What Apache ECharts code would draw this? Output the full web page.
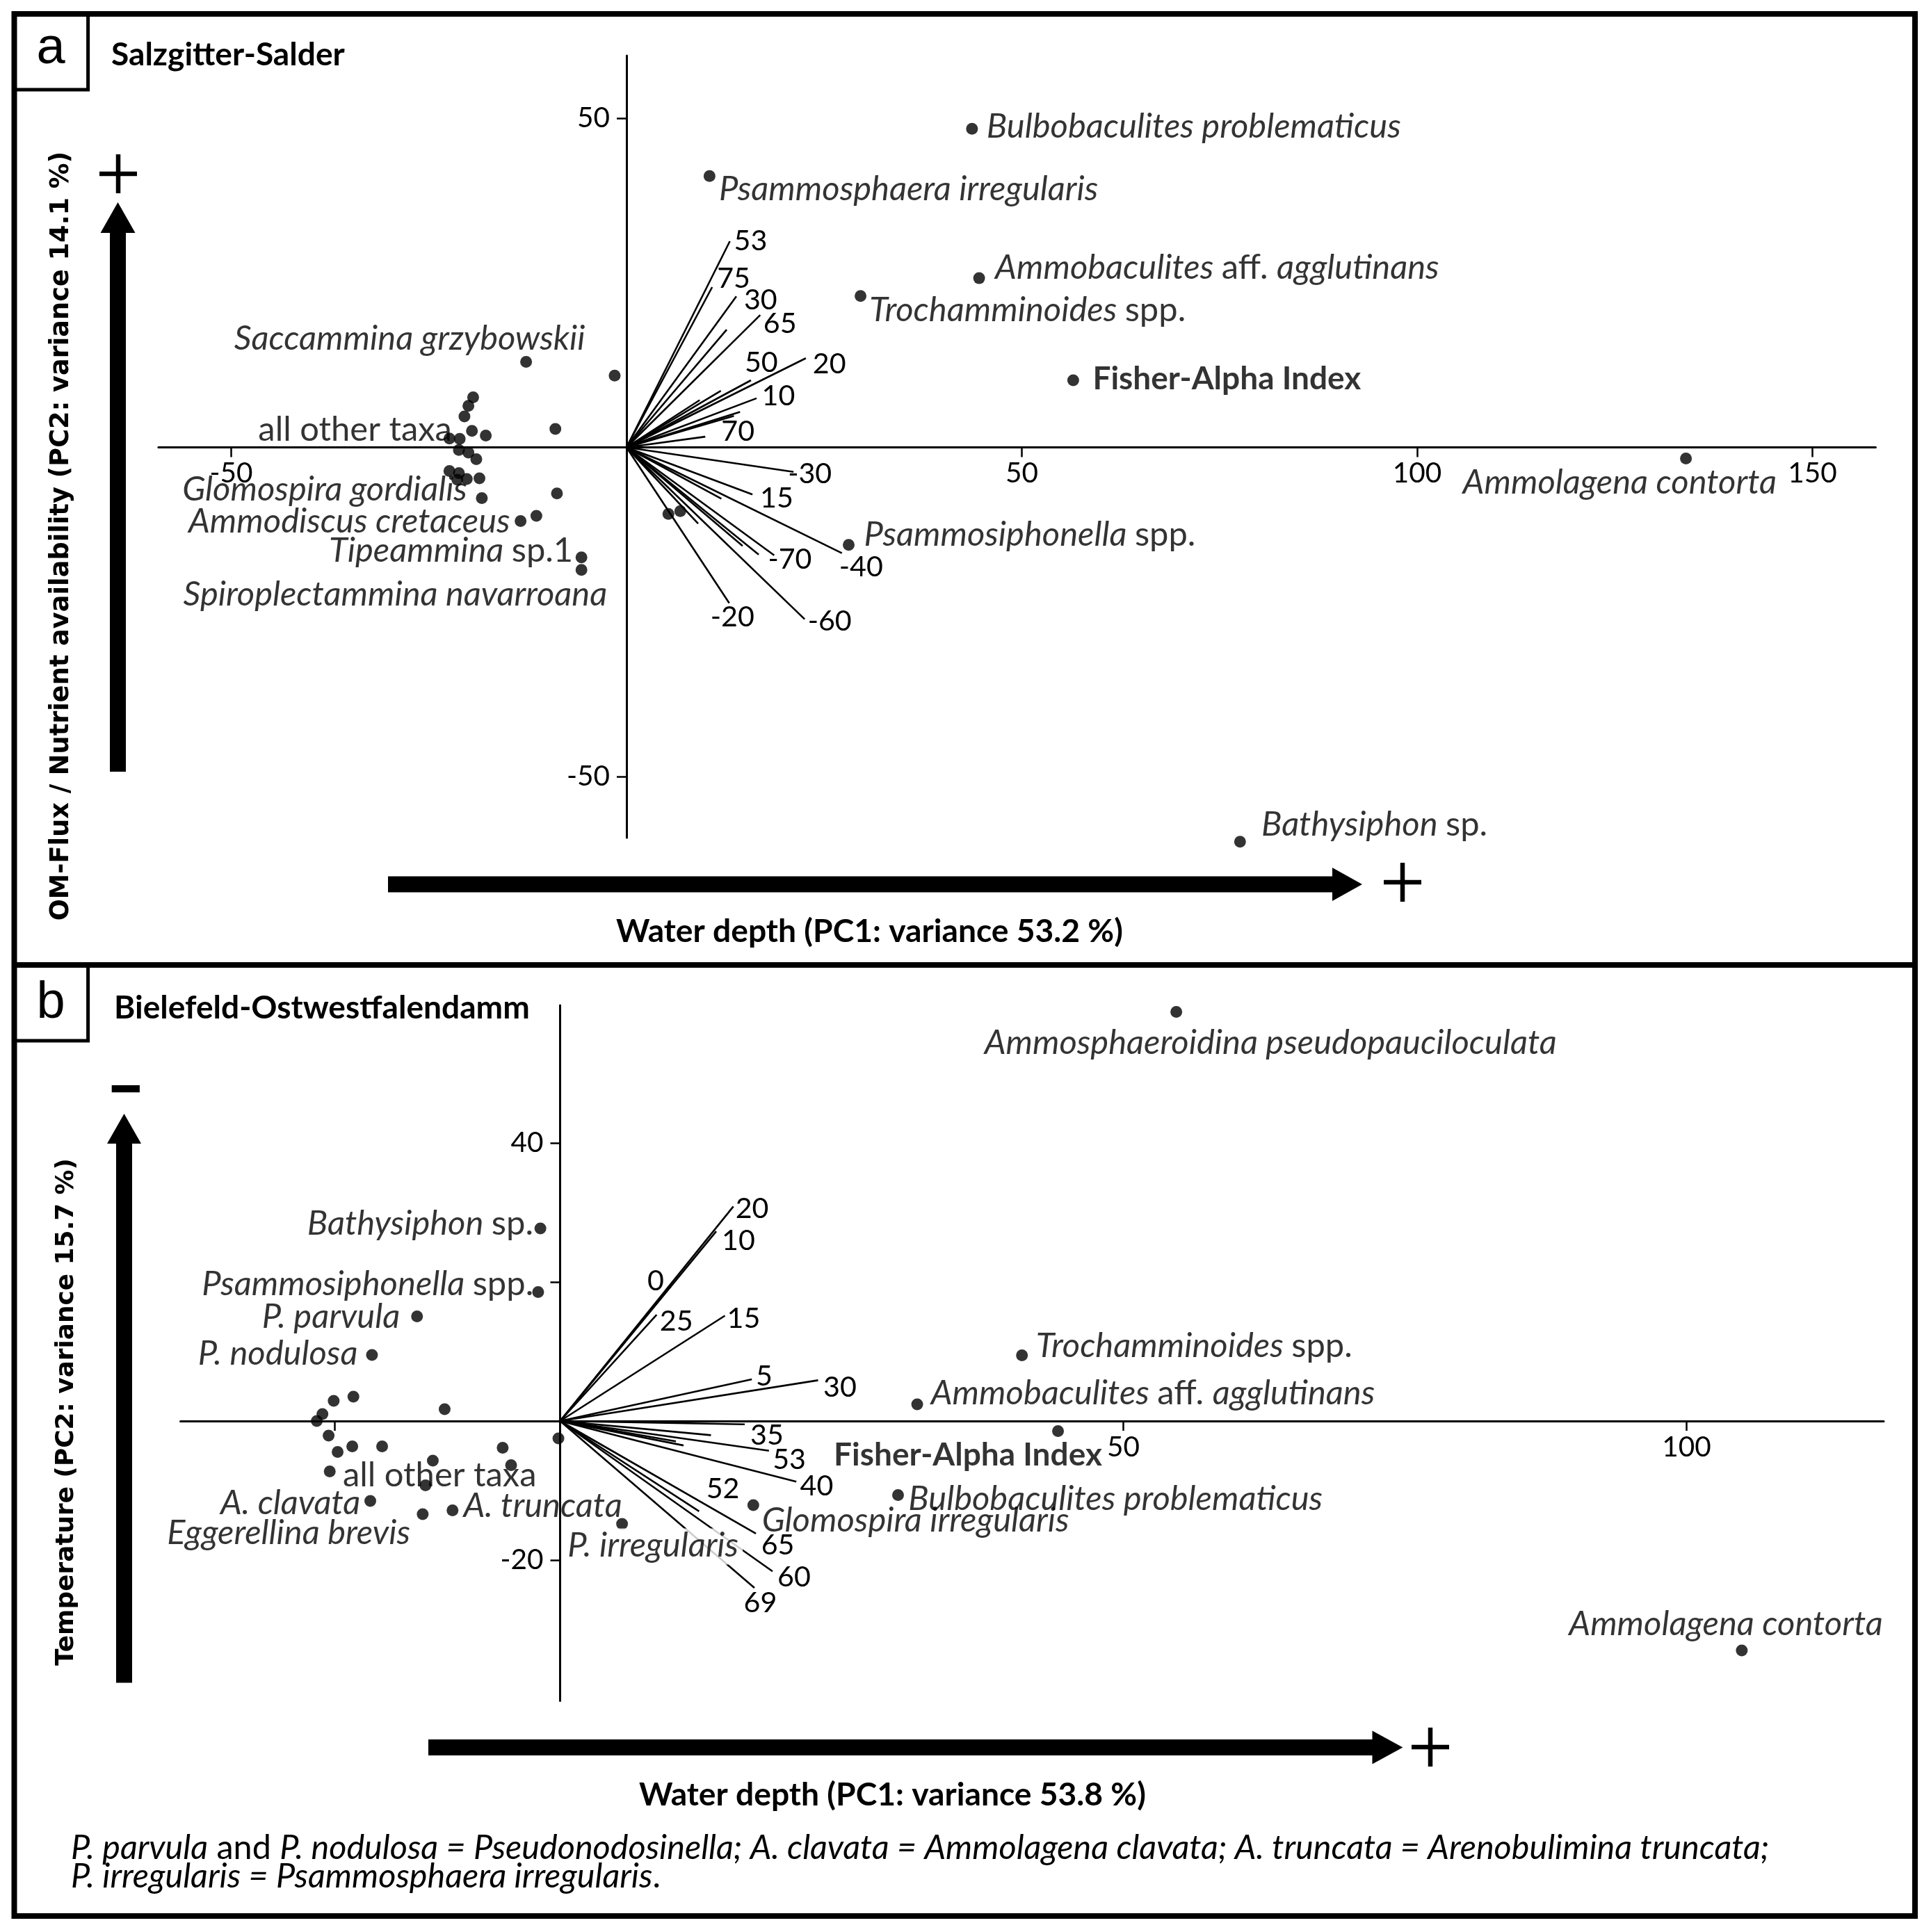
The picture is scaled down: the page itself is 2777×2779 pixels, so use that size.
<!DOCTYPE html>
<html>
<head>
<meta charset="utf-8">
<title>PCA biplots</title>
<script src="https://cdn.jsdelivr.net/npm/echarts@6.0.0/dist/echarts.min.js"></script>
<style>
html,body{margin:0;padding:0;background:#ffffff;}
#chart{width:2777px;height:2779px;}
</style>
</head>
<body>
<div id="chart"></div>
<script>
// ================= DATA: panel a (Salzgitter-Salder) =================
const aTaxaNames = ['Bulbobaculites problematicus','Psammosphaera irregularis','Ammobaculites aff. agglutinans',
  'Trochamminoides spp.','Fisher-Alpha Index','Ammolagena contorta','Psammosiphonella spp.','Bathysiphon sp.',
  'Saccammina grzybowskii','all other taxa','Glomospira gordialis','Ammodiscus cretaceus','Tipeammina sp.1',
  'Spiroplectammina navarroana'];
const aTaxaX = [43.7, 10.5, 44.6, 29.6, 56.5, 134.0, 28.1, 77.6, -12.7, -22.4, -18.3, -13.4, -5.7, -5.7];
const aTaxaY = [48.4, 41.2, 25.7, 23.0, 10.2, -1.7, -14.8, -59.9, 13.0, 1.35, -7.7, -11.2, -16.7, -18.6];
const aOtherX = [-1.5, -19.4, -20.0, -20.5, -19.55, -17.8, -21.1, -21.2, -20.0, -19.0, -22.4, -21.2, -21.4, -20.2, -18.6, -8.8, -11.4, -9.0, 5.3, 6.8];
const aOtherY = [10.9, 7.6, 6.3, 4.7, 2.5, 1.8, 1.3, -0.4, -0.8, -1.8, -3.6, -3.9, -4.9, -4.8, -4.7, -7.0, -10.4, 2.8, -10.1, -9.7];
const aVectorLabels = ['53','75','30','','65','20','50','','','10','','','70','-30','15','','-40','-70','','','','-60','-20'];
const aVectorX = [13.07, 10.83, 13.89, 12.67, 16.91, 22.68, 15.74, 11.93, 9.26, 16.45, 14.36, 13.58, 9.96, 21.12, 15.93, 12.0, 27.24, 18.68, 16.72, 14.68, 9.06, 22.53, 12.99];
const aVectorY = [31.31, 24.34, 22.93, 17.88, 20.1, 13.54, 10.19, 8.6, 7.18, 7.46, 5.39, 4.77, 1.62, -3.72, -7.15, -7.81, -16.06, -16.39, -16.3, -14.98, -11.58, -26.1, -23.65];
const aXTicks = [-50, 50, 100, 150];
const aXTickLabels = [-50, 50, 100, 150];
const aYTicks = [50, -50];
const aYTickLabels = [50, -50];

// ================= DATA: panel b (Bielefeld-Ostwestfalendamm) =================
const bTaxaNames = ['Ammosphaeroidina pseudopauciloculata','Trochamminoides spp.','Ammobaculites aff. agglutinans',
  'Fisher-Alpha Index','Bulbobaculites problematicus','Glomospira irregularis','P. irregularis','A. truncata',
  'Eggerellina brevis','A. clavata','all other taxa','P. nodulosa','P. parvula','Psammosiphonella spp.',
  'Bathysiphon sp.','Ammolagena contorta'];
const bTaxaX = [54.7, 41.0, 31.7, 44.2, 30.0, 17.15, 5.5, -9.55, -12.2, -16.85, -20.45, -16.7, -12.7, -1.95, -1.75, 104.9];
const bTaxaY = [58.85, 9.45, 2.4, -1.45, -10.65, -12.1, -14.8, -12.85, -13.4, -11.5, -7.25, 9.5, 15.05, 18.55, 27.7, -33.0];
const bOtherX = [-18.35, -20.1, -10.25, -21.1, -21.6, -20.55, -18.45, -15.8, -19.75, -5.1, -0.15, -11.3, -4.35, -11.95];
const bOtherY = [3.5, 2.9, 1.7, 1.0, 0.0, -2.1, -3.65, -3.65, -4.45, -3.85, -2.5, -5.7, -6.35, -9.25];
const bVectorLabels = ['20','10','0','25','15','5','30','35','','','','53','40','52','65','60','69'];
const bVectorX = [15.38, 13.86, 10.03, 8.57, 14.63, 17.02, 22.9, 16.39, 13.39, 10.28, 10.96, 18.54, 20.97, 12.34, 17.38, 18.86, 17.25];
const bVectorY = [30.86, 27.29, 19.8, 15.28, 15.15, 6.0, 5.86, -0.47, -2.04, -2.93, -3.51, -4.27, -8.73, -12.98, -16.19, -21.62, -24.0];
const bXTicks = [-20, 50, 100];
const bXTickLabels = [50, 100];
const bYTicks = [40, 20, -20];
const bYTickLabels = [40, -20];

// ================= TEXTS =================
const aPanelLetter = 'a', bPanelLetter = 'b';
const aSite = 'Salzgitter-Salder', bSite = 'Bielefeld-Ostwestfalendamm';
const aXTitle = 'Water depth (PC1: variance 53.2 %)';
const bXTitle = 'Water depth (PC1: variance 53.8 %)';
const aYTitle = 'OM-Flux / Nutrient availability (PC2: variance 14.1 %)';
const bYTitle = 'Temperature (PC2: variance 15.7 %)';
const footItalic1 = 'P. parvula', footRoman1 = ' and ',
      footItalic2 = 'P. nodulosa = Pseudonodosinella; A. clavata = Ammolagena clavata; A. truncata = Arenobulimina truncata;';
const footItalic3 = 'P. irregularis = Psammosphaera irregularis', footRoman3 = '.';

// ================= LAYOUT (pixels) =================
const LATO = 'Lato', DJV = 'DejaVu Sans', ARIAL = 'Liberation Sans';
const mctx = document.createElement('canvas').getContext('2d');
function mw(style, weight, family, text) {
  mctx.font = style + ' ' + weight + ' 100px "' + family + '"';
  return mctx.measureText(text).width;
}
function fit(style, weight, family, text, target) { return 100 * target / mw(style, weight, family, text); }
const FS_SPEC = fit('italic', 'normal', LATO, 'Bulbobaculites problematicus', 596);
const FS_NUM = fit('normal', 'normal', LATO, '65', 47.8);
const FS_TICK = fit('normal', 'normal', LATO, '50', 47);
const FS_XT = fit('normal', 'bold', LATO, aXTitle, 729);
const FS_SITE = fit('normal', 'bold', LATO, bSite, 598);
const FS_FISHER = fit('normal', 'bold', LATO, 'Fisher-Alpha Index', 386);
const FS_YA = fit('normal', 'bold', DJV, aYTitle, 1107);
const FS_YB = fit('normal', 'bold', DJV, bYTitle, 730);
const FS_FOOT = 100 * 2443 / (mw('italic','normal',LATO,footItalic1) + mw('normal','normal',LATO,footRoman1) + mw('italic','normal',LATO,footItalic2));

const GA = {x0: 901, y0: 643.5, sx: 11.37, sy: 9.47, xMin: -59.2, xMax: 158.0, yMin: -59.3, yMax: 59.5};
const GB = {x0: 805.5, y0: 2044, sx: 16.2, sy: 10, xMin: -33.7, xMax: 117.5, yMin: -40.25, yMax: 59.8};
const DOT = 17;
function gridOf(G) {
  return {left: G.x0 + G.xMin * G.sx, top: G.y0 - G.yMax * G.sy,
          width: (G.xMax - G.xMin) * G.sx, height: (G.yMax - G.yMin) * G.sy,
          containLabel: false, outerBoundsMode: 'none', show: false};
}
// label offsets [dx, dy, align, whiteBackground]
const aTaxaLabelPos = {
  'Bulbobaculites problematicus': [21, -3, 'left'],
  'Psammosphaera irregularis': [13.5, 19, 'left'],
  'Ammobaculites aff. agglutinans': [23, -14.5, 'left'],
  'Trochamminoides spp.': [12.6, 20.5, 'left'],
  'Fisher-Alpha Index': [28, -2, 'left'],
  'Ammolagena contorta': [-321, 35, 'left'],
  'Psammosiphonella spp.': [22, -14.6, 'left'],
  'Bathysiphon sp.': [30.7, -25, 'left'],
  'Saccammina grzybowskii': [84.8, -33, 'right'],
  'all other taxa': [3.6, -12, 'right'],
  'Glomospira gordialis': [-21, -12.5, 'right'],
  'Ammodiscus cretaceus': [-15, 0.5, 'right'],
  'Tipeammina sp.1': [-12, -9, 'right'],
  'Spiroplectammina navarroana': [37, 35.5, 'right']
};
const bTaxaLabelPos = {
  'Ammosphaeroidina pseudopauciloculata': [-276, 44.5, 'left'],
  'Trochamminoides spp.': [20, -13.6, 'left'],
  'Ammobaculites aff. agglutinans': [19.7, -15.7, 'left'],
  'Fisher-Alpha Index': [-322.5, 34.8, 'left'],
  'Bulbobaculites problematicus': [14.8, 5.4, 'left'],
  'Glomospira irregularis': [12.4, 22.2, 'left'],
  'P. irregularis': [-82.3, 32.5, 'left', true],
  'A. truncata': [15.6, -5.8, 'left'],
  'Eggerellina brevis': [-17.9, 26.8, 'right'],
  'A. clavata': [-14.3, 3.1, 'right'],
  'all other taxa': [18.7, 5.4, 'left'],
  'P. nodulosa': [-20.6, -1.3, 'right'],
  'P. parvula': [-24.6, 0.9, 'right'],
  'Psammosiphonella spp.': [-6.7, -11.2, 'right'],
  'Bathysiphon sp.': [-10.2, -6.7, 'right'],
  'Ammolagena contorta': [-248.6, -37.7, 'left']
};
const aVecLabelPos = {'53':[6,0],'75':[7,-12],'30':[11,5],'65':[4.5,13],'20':[10,8],'50':[-9,-25],'10':[7.5,-3],
  '70':[23,-7],'-30':[-8,3],'15':[11,6],'-40':[-4,20],'-70':[-9,6],'-60':[4.5,3],'-20':[-27,20.5]};
const bVecLabelPos = {'20':[3,3],'10':[8,14],'0':[-37,-3],'25':[4.5,10],'15':[3,4.5],'5':[5.7,-4.5],'30':[7.6,10],
  '35':[8,15.6],'53':[5.3,13.3],'40':[5.3,6.7],'52':[10.3,-32],'65':[7.6,17],'60':[7,8.7],'69':[-15.4,21.7]};

const ROMAN = new Set(['aff.', 'spp.', 'sp.', 'sp.1']);
function richName(n) {
  if (n === 'all other taxa') return '{r|all other taxa}';
  if (n === 'Fisher-Alpha Index') return '{b|Fisher-Alpha Index}';
  const w = n.split(' ');
  return w.map((s, i) => '{' + (ROMAN.has(s) ? 'r' : 'i') + '|' + s + (i < w.length - 1 ? ' ' : '') + '}').join('');
}
const RICH = {
  i: {fontStyle: 'italic', fontFamily: LATO, fontSize: FS_SPEC, color: '#000'},
  r: {fontStyle: 'normal', fontFamily: LATO, fontSize: FS_SPEC, color: '#000'},
  b: {fontWeight: 'bold', fontFamily: LATO, fontSize: FS_FISHER, color: '#000'}
};

function taxaSeries(idx, names, xs, ys, pos) {
  return {
    type: 'scatter', xAxisIndex: idx, yAxisIndex: idx, z: 5, clip: false, silent: true,
    symbol: 'circle', symbolSize: DOT, itemStyle: {color: '#000'},
    label: {show: true, position: 'inside', verticalAlign: 'middle', color: '#000',
            fontFamily: LATO, fontSize: FS_SPEC, formatter: p => richName(p.name), rich: RICH},
    data: names.map((n, i) => {
      const L = pos[n];
      const lab = {offset: [L[0], L[1]], align: L[2]};
      if (L[3]) { lab.backgroundColor = '#fff'; lab.padding = [0, 6, 3, 4]; }
      return {name: n, value: [xs[i], ys[i]], label: lab};
    })
  };
}
function otherSeries(idx, xs, ys) {
  return {type: 'scatter', xAxisIndex: idx, yAxisIndex: idx, z: 4, clip: false, silent: true,
    symbol: 'circle', symbolSize: DOT, itemStyle: {color: '#000'},
    data: xs.map((x, i) => [x, ys[i]])};
}
function vectorSeries(idx, xs, ys, labels, offs) {
  return {
    type: 'custom', xAxisIndex: idx, yAxisIndex: idx, z: 2, clip: false, silent: true,
    data: xs.map((x, i) => [x, ys[i]]),
    renderItem: (params, api) => {
      const o = api.coord([0, 0]);
      const e = api.coord([api.value(0), api.value(1)]);
      const children = [{type: 'line', shape: {x1: o[0], y1: o[1], x2: e[0], y2: e[1]},
        style: {stroke: '#000', lineWidth: 2.6}}];
      const lab = labels[params.dataIndex];
      if (lab) {
        const off = offs[lab] || [6, 0];
        children.push({type: 'text', x: e[0] + off[0], y: e[1] + off[1],
          style: {text: lab, fill: '#000', fontSize: FS_NUM, fontFamily: LATO,
                  align: 'left', verticalAlign: 'middle', textAlign: 'left', textVerticalAlign: 'middle'}});
      }
      return {type: 'group', children: children};
    }
  };
}
// axes cross at zero: place the axis lines through the origin with an offset
function xAxisDef(idx, G, ticks, labels) {
  return {type: 'value', gridIndex: idx, min: G.xMin, max: G.xMax, position: 'bottom',
    offset: G.yMin * G.sy,
    axisLine: {show: true, onZero: false, lineStyle: {color: '#000', width: 3}},
    axisTick: {show: true, customValues: ticks, length: 14, inside: false, lineStyle: {color: '#000', width: 2.5}},
    axisLabel: {show: true, customValues: labels, margin: 17, color: '#000', fontSize: FS_TICK, fontFamily: LATO},
    splitLine: {show: false}, splitArea: {show: false}};
}
function yAxisDef(idx, G, ticks, labels) {
  return {type: 'value', gridIndex: idx, min: G.yMin, max: G.yMax, position: 'left',
    offset: G.xMin * G.sx,
    axisLine: {show: true, onZero: false, lineStyle: {color: '#000', width: 3}},
    axisTick: {show: true, customValues: ticks, length: 14, inside: false, lineStyle: {color: '#000', width: 2.5}},
    axisLabel: {show: true, customValues: labels, margin: 24, color: '#000', fontSize: FS_TICK, fontFamily: LATO},
    splitLine: {show: false}, splitArea: {show: false}};
}

function txt(x, y, text, size, opts) {
  return Object.assign({type: 'text', x: x, y: y, silent: true,
    style: Object.assign({text: text, fill: '#000', fontSize: size, fontFamily: LATO,
      align: 'left', verticalAlign: 'middle', textAlign: 'left', textVerticalAlign: 'middle'}, (opts && opts.style) || {})},
    (opts && opts.el) || {});
}
function poly(points) { return {type: 'polygon', silent: true, shape: {points: points}, style: {fill: '#000'}}; }
function seg(x1, y1, x2, y2, w) { return {type: 'line', silent: true, shape: {x1, y1, x2, y2}, style: {stroke: '#000', lineWidth: w}}; }
function plus(cx, cy) { return [seg(cx - 27, cy, cx + 27, cy, 6.5), seg(cx, cy - 28, cx, cy + 28, 6.5)]; }
function vArrow(cx, halfShaft, tipY, baseY, bottomY, halfHead) {
  return poly([[cx - halfShaft, bottomY], [cx - halfShaft, baseY], [cx - halfHead, baseY], [cx, tipY],
               [cx + halfHead, baseY], [cx + halfShaft, baseY], [cx + halfShaft, bottomY]]);
}
function hArrow(cy, halfShaft, leftX, baseX, tipX, halfHead) {
  return poly([[leftX, cy - halfShaft], [baseX, cy - halfShaft], [baseX, cy - halfHead], [tipX, cy],
               [baseX, cy + halfHead], [baseX, cy + halfShaft], [leftX, cy + halfShaft]]);
}

const graphics = [
  {type: 'rect', silent: true, shape: {x: 20.5, y: 20, width: 2733.5, height: 2736}, style: {fill: null, stroke: '#000', lineWidth: 8}},
  seg(20, 1388, 2754, 1388, 8),
  {type: 'polyline', silent: true, shape: {points: [[126.6, 20], [126.6, 129], [20, 129]]}, style: {fill: null, stroke: '#000', lineWidth: 5}},
  {type: 'polyline', silent: true, shape: {points: [[126.6, 1388], [126.6, 1497], [20, 1497]]}, style: {fill: null, stroke: '#000', lineWidth: 5}},
  txt(73, 71, aPanelLetter, 74, {style: {fontFamily: ARIAL, align: 'center', textAlign: 'center'}}),
  txt(73, 1444, bPanelLetter, 74, {style: {fontFamily: ARIAL, align: 'center', textAlign: 'center'}}),
  txt(160, 79, aSite, FS_SITE, {style: {fontWeight: 'bold'}}),
  txt(164, 1450, bSite, FS_SITE, {style: {fontWeight: 'bold'}}),
  // axis direction arrows
  vArrow(169.5, 11.5, 291, 335, 1110, 25),
  ...plus(170, 250),
  hArrow(1272, 11.5, 558, 1916, 1959, 24),
  ...plus(2017, 1269),
  vArrow(178.5, 11.5, 1602, 1645, 2420.5, 24.5),
  {type: 'rect', silent: true, shape: {x: 160.7, y: 1561, width: 40.2, height: 10.3}, style: {fill: '#000'}},
  hArrow(2513.5, 11.5, 616, 1973.5, 2017.4, 24),
  ...plus(2057, 2513),
  // axis titles
  txt(886, 1340, aXTitle, FS_XT, {style: {fontWeight: 'bold'}}),
  txt(919, 2582, bXTitle, FS_XT, {style: {fontWeight: 'bold'}}),
  txt(88, 771, aYTitle, FS_YA, {style: {fontFamily: DJV, fontWeight: 'bold', align: 'center', textAlign: 'center'}, el: {rotation: Math.PI / 2}}),
  txt(96, 2031, bYTitle, FS_YB, {style: {fontFamily: DJV, fontWeight: 'bold', align: 'center', textAlign: 'center'}, el: {rotation: Math.PI / 2}}),
  // footnote
  {type: 'text', silent: true, x: 102, y: 2658, style: {
    text: '{i|' + footItalic1 + '}{r|' + footRoman1 + '}{i|' + footItalic2 + '}',
    align: 'left', verticalAlign: 'middle', textAlign: 'left', textVerticalAlign: 'middle',
    rich: {i: {fontStyle: 'italic', fontFamily: LATO, fontSize: FS_FOOT, fill: '#000', color: '#000'},
           r: {fontFamily: LATO, fontSize: FS_FOOT, fill: '#000', color: '#000'}}}},
  {type: 'text', silent: true, x: 102, y: 2699, style: {
    text: '{i|' + footItalic3 + '}{r|' + footRoman3 + '}',
    align: 'left', verticalAlign: 'middle', textAlign: 'left', textVerticalAlign: 'middle',
    rich: {i: {fontStyle: 'italic', fontFamily: LATO, fontSize: FS_FOOT, fill: '#000', color: '#000'},
           r: {fontFamily: LATO, fontSize: FS_FOOT, fill: '#000', color: '#000'}}}}
];

const option = {
  animation: false,
  backgroundColor: '#ffffff',
  grid: [gridOf(GA), gridOf(GB)],
  xAxis: [xAxisDef(0, GA, aXTicks, aXTickLabels), xAxisDef(1, GB, bXTicks, bXTickLabels)],
  yAxis: [yAxisDef(0, GA, aYTicks, aYTickLabels), yAxisDef(1, GB, bYTicks, bYTickLabels)],
  series: [
    vectorSeries(0, aVectorX, aVectorY, aVectorLabels, aVecLabelPos),
    otherSeries(0, aOtherX, aOtherY),
    taxaSeries(0, aTaxaNames, aTaxaX, aTaxaY, aTaxaLabelPos),
    vectorSeries(1, bVectorX, bVectorY, bVectorLabels, bVecLabelPos),
    otherSeries(1, bOtherX, bOtherY),
    taxaSeries(1, bTaxaNames, bTaxaX, bTaxaY, bTaxaLabelPos)
  ],
  graphic: {elements: graphics}
};
const chart = echarts.init(document.getElementById('chart'), null, {renderer: 'canvas'});
chart.setOption(option);
</script>
</body>
</html>
